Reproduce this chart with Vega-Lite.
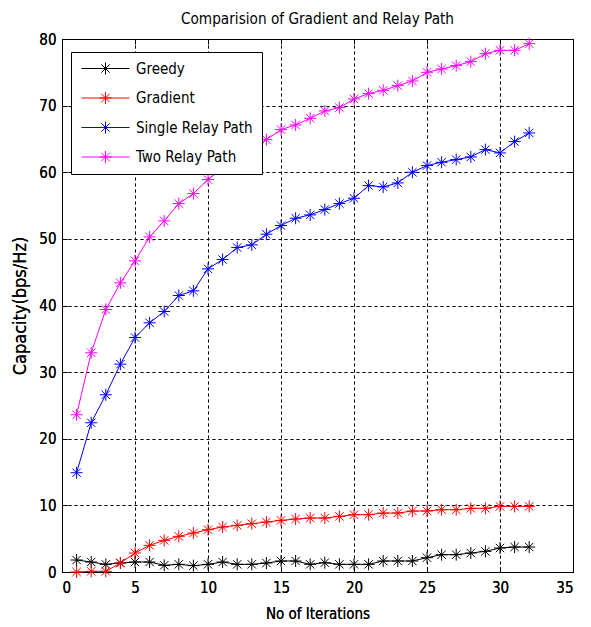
{
  "$schema": "https://vega.github.io/schema/vega-lite/v6.json",
  "width": 511,
  "height": 533,
  "autosize": "none",
  "padding": {"left": 62, "top": 39, "right": 18, "bottom": 55},
  "background": "white",
  "title": {"text": "Comparision of Gradient and Relay Path", "font": "DejaVu Sans Condensed, sans-serif", "fontSize": 15.2, "fontWeight": "normal", "color": "black", "offset": 5, "anchor": "middle"},
  "config": {
    "view": {"stroke": "black", "strokeWidth": 1},
    "axis": {
      "labelFont": "DejaVu Sans Condensed, sans-serif",
      "labelFontSize": 15,
      "labelColor": "black",
      "titleFont": "DejaVu Sans Condensed, sans-serif",
      "titleFontSize": 15,
      "titleFontWeight": "normal",
      "titleColor": "black",
      "tickColor": "black",
      "tickSize": -5,
      "domainColor": "black",
      "gridColor": "black",
      "gridOpacity": 1,
      "gridDash": [3, 3],
      "gridWidth": 0.8
    }
  },
  "data": {"values": [
    {"series": "Greedy", "x": 1, "y": 1.8}, {"series": "Greedy", "x": 2, "y": 1.5}, {"series": "Greedy", "x": 3, "y": 1.15}, {"series": "Greedy", "x": 4, "y": 1.35},
    {"series": "Greedy", "x": 5, "y": 1.5}, {"series": "Greedy", "x": 6, "y": 1.5}, {"series": "Greedy", "x": 7, "y": 1.0}, {"series": "Greedy", "x": 8, "y": 1.15},
    {"series": "Greedy", "x": 9, "y": 0.95}, {"series": "Greedy", "x": 10, "y": 1.15}, {"series": "Greedy", "x": 11, "y": 1.5}, {"series": "Greedy", "x": 12, "y": 1.15},
    {"series": "Greedy", "x": 13, "y": 1.15}, {"series": "Greedy", "x": 14, "y": 1.35}, {"series": "Greedy", "x": 15, "y": 1.65}, {"series": "Greedy", "x": 16, "y": 1.65},
    {"series": "Greedy", "x": 17, "y": 1.15}, {"series": "Greedy", "x": 18, "y": 1.4}, {"series": "Greedy", "x": 19, "y": 1.15}, {"series": "Greedy", "x": 20, "y": 1.15},
    {"series": "Greedy", "x": 21, "y": 1.15}, {"series": "Greedy", "x": 22, "y": 1.65}, {"series": "Greedy", "x": 23, "y": 1.65}, {"series": "Greedy", "x": 24, "y": 1.65},
    {"series": "Greedy", "x": 25, "y": 2.15}, {"series": "Greedy", "x": 26, "y": 2.6}, {"series": "Greedy", "x": 27, "y": 2.6}, {"series": "Greedy", "x": 28, "y": 2.85},
    {"series": "Greedy", "x": 29, "y": 3.1}, {"series": "Greedy", "x": 30, "y": 3.6}, {"series": "Greedy", "x": 31, "y": 3.75}, {"series": "Greedy", "x": 32, "y": 3.75},
    {"series": "Gradient", "x": 1, "y": 0}, {"series": "Gradient", "x": 2, "y": 0.1}, {"series": "Gradient", "x": 3, "y": 0.1}, {"series": "Gradient", "x": 4, "y": 1.35},
    {"series": "Gradient", "x": 5, "y": 2.85}, {"series": "Gradient", "x": 6, "y": 4.0}, {"series": "Gradient", "x": 7, "y": 4.75}, {"series": "Gradient", "x": 8, "y": 5.35},
    {"series": "Gradient", "x": 9, "y": 5.85}, {"series": "Gradient", "x": 10, "y": 6.35}, {"series": "Gradient", "x": 11, "y": 6.75}, {"series": "Gradient", "x": 12, "y": 7.0},
    {"series": "Gradient", "x": 13, "y": 7.25}, {"series": "Gradient", "x": 14, "y": 7.5}, {"series": "Gradient", "x": 15, "y": 7.75}, {"series": "Gradient", "x": 16, "y": 7.95},
    {"series": "Gradient", "x": 17, "y": 8.1}, {"series": "Gradient", "x": 18, "y": 8.1}, {"series": "Gradient", "x": 19, "y": 8.35}, {"series": "Gradient", "x": 20, "y": 8.6},
    {"series": "Gradient", "x": 21, "y": 8.6}, {"series": "Gradient", "x": 22, "y": 8.85}, {"series": "Gradient", "x": 23, "y": 8.85}, {"series": "Gradient", "x": 24, "y": 9.15},
    {"series": "Gradient", "x": 25, "y": 9.15}, {"series": "Gradient", "x": 26, "y": 9.35}, {"series": "Gradient", "x": 27, "y": 9.35}, {"series": "Gradient", "x": 28, "y": 9.55},
    {"series": "Gradient", "x": 29, "y": 9.55}, {"series": "Gradient", "x": 30, "y": 9.85}, {"series": "Gradient", "x": 31, "y": 9.85}, {"series": "Gradient", "x": 32, "y": 9.85},
    {"series": "Single Relay Path", "x": 1, "y": 14.9}, {"series": "Single Relay Path", "x": 2, "y": 22.4}, {"series": "Single Relay Path", "x": 3, "y": 26.6}, {"series": "Single Relay Path", "x": 4, "y": 31.2},
    {"series": "Single Relay Path", "x": 5, "y": 35.2}, {"series": "Single Relay Path", "x": 6, "y": 37.4}, {"series": "Single Relay Path", "x": 7, "y": 39.1}, {"series": "Single Relay Path", "x": 8, "y": 41.5},
    {"series": "Single Relay Path", "x": 9, "y": 42.2}, {"series": "Single Relay Path", "x": 10, "y": 45.5}, {"series": "Single Relay Path", "x": 11, "y": 46.9}, {"series": "Single Relay Path", "x": 12, "y": 48.7},
    {"series": "Single Relay Path", "x": 13, "y": 49.1}, {"series": "Single Relay Path", "x": 14, "y": 50.7}, {"series": "Single Relay Path", "x": 15, "y": 52.0}, {"series": "Single Relay Path", "x": 16, "y": 53.1},
    {"series": "Single Relay Path", "x": 17, "y": 53.6}, {"series": "Single Relay Path", "x": 18, "y": 54.4}, {"series": "Single Relay Path", "x": 19, "y": 55.3}, {"series": "Single Relay Path", "x": 20, "y": 56.1},
    {"series": "Single Relay Path", "x": 21, "y": 58.0}, {"series": "Single Relay Path", "x": 22, "y": 57.8}, {"series": "Single Relay Path", "x": 23, "y": 58.4}, {"series": "Single Relay Path", "x": 24, "y": 60.0},
    {"series": "Single Relay Path", "x": 25, "y": 61.0}, {"series": "Single Relay Path", "x": 26, "y": 61.5}, {"series": "Single Relay Path", "x": 27, "y": 61.9}, {"series": "Single Relay Path", "x": 28, "y": 62.3},
    {"series": "Single Relay Path", "x": 29, "y": 63.4}, {"series": "Single Relay Path", "x": 30, "y": 62.9}, {"series": "Single Relay Path", "x": 31, "y": 64.6}, {"series": "Single Relay Path", "x": 32, "y": 65.9},
    {"series": "Two Relay Path", "x": 1, "y": 23.6}, {"series": "Two Relay Path", "x": 2, "y": 32.9}, {"series": "Two Relay Path", "x": 3, "y": 39.4}, {"series": "Two Relay Path", "x": 4, "y": 43.4},
    {"series": "Two Relay Path", "x": 5, "y": 46.7}, {"series": "Two Relay Path", "x": 6, "y": 50.3}, {"series": "Two Relay Path", "x": 7, "y": 52.7}, {"series": "Two Relay Path", "x": 8, "y": 55.3},
    {"series": "Two Relay Path", "x": 9, "y": 56.8}, {"series": "Two Relay Path", "x": 10, "y": 58.9}, {"series": "Two Relay Path", "x": 11, "y": 60.6}, {"series": "Two Relay Path", "x": 12, "y": 62.2},
    {"series": "Two Relay Path", "x": 13, "y": 63.6}, {"series": "Two Relay Path", "x": 14, "y": 64.9}, {"series": "Two Relay Path", "x": 15, "y": 66.4}, {"series": "Two Relay Path", "x": 16, "y": 67.1},
    {"series": "Two Relay Path", "x": 17, "y": 68.1}, {"series": "Two Relay Path", "x": 18, "y": 69.2}, {"series": "Two Relay Path", "x": 19, "y": 69.7}, {"series": "Two Relay Path", "x": 20, "y": 71.0},
    {"series": "Two Relay Path", "x": 21, "y": 71.8}, {"series": "Two Relay Path", "x": 22, "y": 72.3}, {"series": "Two Relay Path", "x": 23, "y": 73.0}, {"series": "Two Relay Path", "x": 24, "y": 73.7},
    {"series": "Two Relay Path", "x": 25, "y": 75.0}, {"series": "Two Relay Path", "x": 26, "y": 75.5}, {"series": "Two Relay Path", "x": 27, "y": 76.0}, {"series": "Two Relay Path", "x": 28, "y": 76.6},
    {"series": "Two Relay Path", "x": 29, "y": 77.8}, {"series": "Two Relay Path", "x": 30, "y": 78.3}, {"series": "Two Relay Path", "x": 31, "y": 78.3}, {"series": "Two Relay Path", "x": 32, "y": 79.3}
  ]},
  "encoding": {
    "x": {"field": "x", "type": "quantitative", "scale": {"domain": [0, 35], "nice": false, "zero": false},
      "axis": {"title": "No of Iterations", "values": [0, 5, 10, 15, 20, 25, 30, 35], "grid": true, "labelPadding": 13, "titlePadding": 11}},
    "y": {"field": "y", "type": "quantitative", "scale": {"domain": [0, 80], "nice": false},
      "axis": {"title": "Capacity(bps/Hz)", "titleFontSize": 18, "values": [0, 10, 20, 30, 40, 50, 60, 70, 80], "grid": true, "labelPadding": 11, "titlePadding": 9}}
  },
  "layer": [
    {
      "mark": {"type": "point", "opacity": 0},
      "encoding": {
        "x": {"field": "x", "type": "quantitative", "axis": {"orient": "top", "values": [0, 5, 10, 15, 20, 25, 30, 35], "labels": false, "title": null, "grid": false, "domain": false}},
        "y": {"field": "y", "type": "quantitative", "axis": {"orient": "right", "values": [0, 10, 20, 30, 40, 50, 60, 70, 80], "labels": false, "title": null, "grid": false, "domain": false}}
      }
    },
    {
      "mark": {"type": "line", "strokeWidth": 1},
      "encoding": {
        "color": {"field": "series", "type": "nominal",
          "scale": {"domain": ["Greedy", "Gradient", "Single Relay Path", "Two Relay Path"], "range": ["#000000", "#ff0000", "#0000ff", "#ff00ff"]},
          "legend": {"title": null, "orient": "none", "legendX": 9, "legendY": 13, "strokeColor": "black", "fillColor": "white", "padding": 9,
            "labelFont": "DejaVu Sans Condensed, sans-serif", "labelFontSize": 15, "labelColor": "black", "labelOffset": 41,
            "symbolType": "M-1,0L7,0M3,-1L3,1M2,0L4,0M2.3,-0.7L3.7,0.7M2.3,0.7L3.7,-0.7",
            "symbolSize": 144, "symbolStrokeWidth": 1, "rowPadding": 12.5, "cornerRadius": 0}
        }
      }
    },
    {
      "mark": {"type": "point", "shape": "M0,-1L0,1M-1,0L1,0M-0.7,-0.7L0.7,0.7M-0.7,0.7L0.7,-0.7", "filled": false, "size": 144, "strokeWidth": 1, "opacity": 1},
      "encoding": {
        "color": {"field": "series", "type": "nominal",
          "scale": {"domain": ["Greedy", "Gradient", "Single Relay Path", "Two Relay Path"], "range": ["#000000", "#ff0000", "#0000ff", "#ff00ff"]}}
      }
    }
  ],
  "resolve": {"axis": {"x": "independent", "y": "independent"}}
}
